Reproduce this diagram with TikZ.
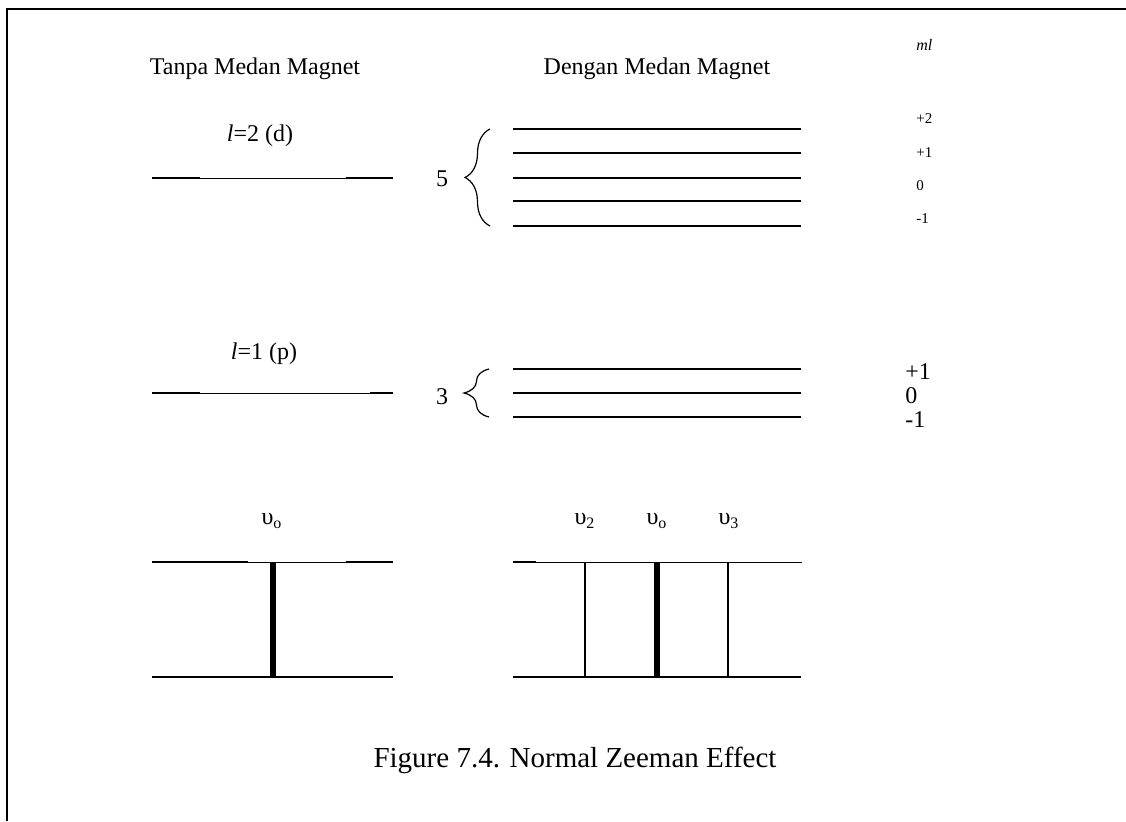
\documentclass[tikz,border=0pt]{standalone}
\usepackage{fontspec}
\setmainfont{Liberation Serif}
\usetikzlibrary{decorations.pathreplacing}
\begin{document}
\begin{tikzpicture}[x=0.5pt,y=-0.5pt,
  heavy/.style={line width=1pt},
  light/.style={line width=0.5pt},
  line/.style={line width=3pt},
  splitbrace/.style={decorate,line width=0.6pt,decoration={brace,amplitude=12.5pt}},
  txt/.style={font=\fontsize{12}{14}\selectfont,inner sep=0pt},
  tiny/.style={font=\fontsize{7.5}{9}\selectfont,inner sep=0pt,anchor=west}]
\useasboundingbox (0,0) rectangle (1126,821);
% frame
\draw[line width=1pt] (7,821) -- (7,9) -- (1126,9);
% titles
\node[txt] (tanpa) at (255,69) {Tanpa Medan Magnet};
\node[txt] (dengan) at (657,69) {Dengan Medan Magnet};
\node[tiny,font=\fontsize{8}{9}\selectfont\itshape] (ml) at (916,45) {ml};
% l=2 level
\node[txt] (ld) at (260,136) {\textit{l}=2 (d)};
\draw[heavy] (152,178) -- (200,178);
\draw[light] (200,178) -- (346,178);
\draw[heavy] (346,178) -- (393,178);
\foreach \y in {129,153,178,201,226}
  \draw[heavy] (513,\y) -- (801,\y);
\draw[splitbrace] (490,226) -- (490,129);
\node[txt] (five) at (442,179) {5};
\node[tiny] (mtwo) at (916,119) {+2};
\node[tiny] (mone) at (916,153) {+1};
\node[tiny] (mzero) at (916,186) {0};
\node[tiny] (mneg) at (916,219) {-1};
% l=1 level
\node[txt] (lp) at (264,354) {\textit{l}=1 (p)};
\draw[heavy] (152,393) -- (200,393);
\draw[light] (200,393) -- (370,393);
\draw[heavy] (370,393) -- (393,393);
\foreach \y in {369,393,417}
  \draw[heavy] (513,\y) -- (801,\y);
\draw[splitbrace] (489,417) -- (489,369);
\node[txt] (three) at (442,397) {3};
\node[txt,anchor=west] (pone) at (905,372) {+1};
\node[txt,anchor=west] (pzero) at (905,396) {0};
\node[txt,anchor=west] (pneg) at (905,420) {-1};
% spectra
\node[txt] (nuo) at (272,521) {υ\textsubscript{o}};
\draw[heavy] (152,562) -- (248,562);
\draw[light] (248,562) -- (346,562);
\draw[heavy] (346,562) -- (393,562);
\draw[heavy] (152,677) -- (393,677);
\draw[line] (273,562) -- (273,677);
\node[txt] (nutwo) at (585,521) {υ\textsubscript{2}};
\node[txt] (nuoo) at (657,521) {υ\textsubscript{o}};
\node[txt] (nuthree) at (729,521) {υ\textsubscript{3}};
\draw[heavy] (513,562) -- (536,562);
\draw[light] (536,562) -- (802,562);
\draw[heavy] (513,677) -- (801,677);
\draw[heavy] (585,562) -- (585,677);
\draw[line] (657,562) -- (657,677);
\draw[heavy] (728,562) -- (728,677);
% caption
\node[txt,font=\fontsize{14.5}{17}\selectfont] (cap) at (575,760) {Figure 7.4. Normal Zeeman Effect};
\end{tikzpicture}
\end{document}
